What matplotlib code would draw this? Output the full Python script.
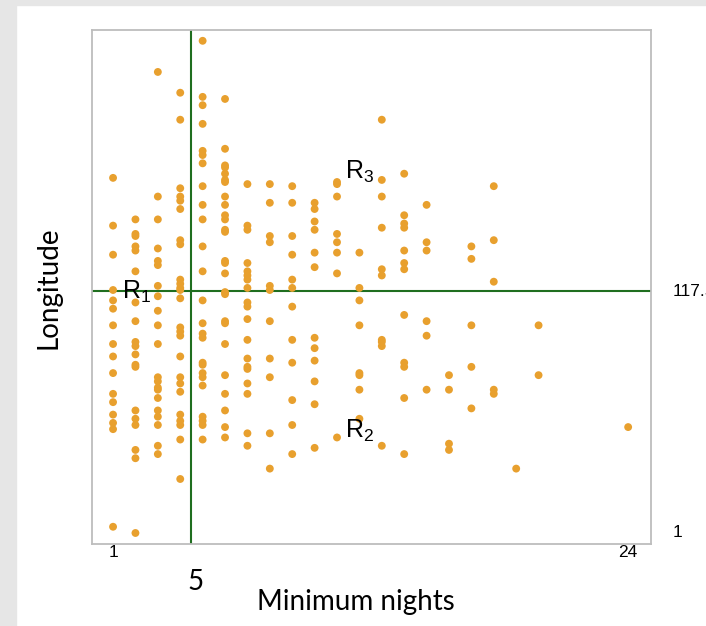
import numpy as np
import matplotlib.pyplot as plt
from matplotlib.patches import Rectangle
from matplotlib.transforms import blended_transform_factory

# 最少入住天数 -> 经度排名
nights = [1, 2, 3, 4, 5, 6, 7, 8, 9, 10, 11, 12, 13, 14, 15, 16, 17, 18, 19, 20, 24]
lon_rank = [
    [172, 149, 135, 118, 113, 109, 101, 92, 86, 78, 68, 64, 58, 54, 51, 4],
    [152, 145, 144, 139, 137, 127, 112, 103, 93, 91, 87, 82, 81, 60, 56, 53, 41, 37, 1],
    [223, 163, 152, 138, 132, 130, 120, 115, 108, 101, 92, 76, 74, 71, 70, 66, 60, 57, 53, 43, 39],
    [213, 200, 167, 163, 161, 157, 142, 140, 123, 121, 119, 118, 114, 100, 98, 96, 86, 76, 73, 69,
     58, 55, 53, 46, 27],
    [238, 211, 207, 198, 185, 183, 179, 168, 159, 152, 139, 127, 113, 102, 97, 95, 83, 82, 78, 76,
     72, 57, 55, 53, 46],
    [210, 186, 178, 177, 174, 171, 170, 163, 159, 154, 152, 147, 146, 132, 131, 126, 117, 116, 103,
     102, 92, 77, 68, 60, 52, 47],
    [169, 149, 147, 131, 127, 125, 123, 119, 112, 110, 104, 94, 85, 81, 80, 73, 68, 49, 43],
    [169, 160, 144, 141, 120, 118, 103, 85, 76, 49, 32],
    [168, 160, 144, 135, 123, 119, 110, 94, 83, 65, 53, 39],
    [160, 157, 151, 147, 136, 129, 95, 90, 84, 74, 63, 42],
    [170, 169, 163, 145, 141, 136, 126, 47],
    [136, 119, 113, 101, 78, 77, 70, 56],
    [200, 171, 163, 148, 128, 125, 94, 93, 91, 43],
    [174, 154, 150, 148, 137, 131, 128, 106, 83, 81, 66, 39],
    [159, 141, 137, 103, 96, 70],
    [77, 70, 44, 41],
    [139, 133, 101, 81, 61],
    [168, 142, 122, 70, 68],
    [32],
    [101, 77],
    [52],
]
split_x = 4.5       # 竖直分割线
split_y = 117.5     # 水平分割线 (中位数)
x_ticks = [1, 24]
y_labels = [1, 117.5]

dot_color = "#E8A02E"
line_color = "#1f6e1f"
frame_color = "#bdbdbd"

xs = np.concatenate([[n] * len(r) for n, r in zip(nights, lon_rank)])
ys = np.concatenate(lon_rank)

fig = plt.figure(figsize=(7.06, 6.26), dpi=100)
# 截图边缘的灰色条
fig.patches.append(Rectangle((0, 0), 16 / 706, 1, transform=fig.transFigure, color="#e6e6e6", zorder=0))
fig.patches.append(Rectangle((0, 1 - 5 / 626), 1, 5 / 626, transform=fig.transFigure, color="#e6e6e6", zorder=0))

ax = fig.add_axes([92 / 706, 82 / 626, 559 / 706, 514 / 626])
ax.scatter(xs, ys, s=32, color=dot_color, edgecolors="none", zorder=3)
ax.axvline(split_x, color=line_color, lw=1.5, zorder=2)
ax.axhline(split_y, color=line_color, lw=1.5, zorder=2)
ax.set_xlim(0.06, 25.02)
ax.set_ylim(-4.3, 243.2)

for s in ax.spines.values():
    s.set_color(frame_color)
    s.set_linewidth(1.3)
ax.set_xticks(x_ticks)
ax.set_xticklabels([str(t) for t in x_ticks], fontsize=12.5, family="Liberation Sans")
ax.tick_params(axis="x", length=0, pad=1)
ax.set_yticks([])

# 右侧纵轴标签 (原图中 117.5 被右边缘截掉)
trans = blended_transform_factory(ax.transAxes, ax.transData)
for v in y_labels:
    ax.text(1.039, v, f"{v:g}", transform=trans, ha="left", va="center", fontsize=12.5,
            family="Liberation Sans", clip_on=False)

# 区域标注
for name, (tx, ty) in {"1": (1.4, 114), "2": (11.37, 46.6), "3": (11.35, 171.4)}.items():
    ax.text(tx, ty, r"$\mathregular{R_%s}$" % name, ha="left", va="baseline", fontsize=18,
            family="Liberation Sans", zorder=4)

fig.text(196 / 706, 1 - 590 / 626, "5", ha="center", va="baseline", fontsize=20, family="Lato")
fig.text(356 / 706, 1 - 610 / 626, "Minimum nights", ha="center", va="baseline", fontsize=20, family="Lato")
fig.text(48 / 706, 1 - 288 / 626, "Longitude", ha="center", va="center", rotation=90, fontsize=20,
         family="Lato")

fig.savefig("out.png", dpi=100)
